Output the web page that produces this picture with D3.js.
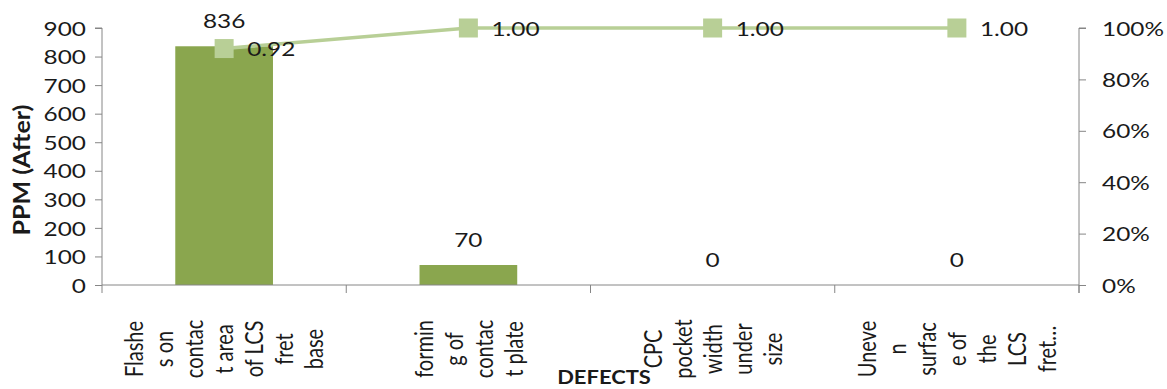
<!DOCTYPE html>
<html>
<head>
<meta charset="utf-8">
<script src="https://cdn.jsdelivr.net/npm/d3@7"></script>
<style>
  html, body { margin: 0; padding: 0; background: #fff; }
  svg { display: block; }
  text { font-family: Lato, "Open Sans", sans-serif; fill: #1a1a1a; }
</style>
</head>
<body>
<svg id="chart" width="1167" height="389"></svg>
<script>
// Defect categories (full names) and their wrapped axis labels
const categories = [
  "Flashes on contact area of LCS fret base",
  "forming of contact plate",
  "CPC pocket width under size",
  "Uneven surface of the LCS fret…"
];
const categoryLines = [
  ["Flashe", "s on", "contac", "t area", "of LCS", "fret", "base"],
  ["formin", "g of", "contac", "t plate"],
  ["CPC", "pocket", "width", "under", "size"],
  ["Uneve", "n", "surfac", "e of", "the", "LCS", "fret…"]
];
// PPM after improvement, per defect
const ppmValues = [836, 70, 0, 0];
// Cumulative share of defects
const cumulativeShare = [0.92, 1.00, 1.00, 1.00];
// Axis ticks
const leftTicks = [0, 100, 200, 300, 400, 500, 600, 700, 800, 900];
const rightTicks = [0, 0.2, 0.4, 0.6, 0.8, 1.0];

const svg = d3.select("#chart");
const plot = { left: 102, right: 1079, top: 28, bottom: 285 };
const stretch = 1.22;           // horizontal widening of the lettering
const fontSize = 20;
const axisColor = "#868686";
const barColor = "#8aa64e";
const lineColor = "#b8cf96";

const x = d3.scaleBand().domain(categories).range([plot.left, plot.right]).padding(0);
const yL = d3.scaleLinear().domain([0, 900]).range([plot.bottom, plot.top]);
const yR = d3.scaleLinear().domain([0, 1]).range([plot.bottom, plot.top]);
const cx = c => x(c) + x.bandwidth() / 2;

// helper: widened text centred (vertically) at (px, py)
function label(g, px, py, str, opts = {}) {
  const rot = opts.rotate ? ` rotate(${opts.rotate})` : "";
  const sx = opts.sx || stretch;
  return g.append("text")
    .attr("transform", `translate(${px},${py}) scale(${sx},1)${rot}`)
    .attr("text-anchor", opts.anchor || "middle")
    .attr("dominant-baseline", "central")
    .style("font-size", (opts.size || fontSize) + "px")
    .style("font-weight", opts.bold ? "bold" : null)
    .text(str);
}

// Bars
const barW = x.bandwidth() * 0.4;
svg.append("g").selectAll("rect").data(categories).join("rect")
  .attr("x", (d) => cx(d) - barW / 2)
  .attr("width", barW)
  .attr("y", (d, i) => yL(ppmValues[i]))
  .attr("height", (d, i) => yL(0) - yL(ppmValues[i]))
  .attr("fill", barColor);

// Left axis
const gL = svg.append("g").attr("transform", `translate(${plot.left},0)`)
  .call(d3.axisLeft(yL).tickValues(leftTicks).tickSize(7).tickFormat(""));
gL.select(".domain").attr("stroke", axisColor).attr("d", `M-7,${plot.top}H0V${plot.bottom}`);
gL.selectAll(".tick line").attr("stroke", axisColor);
leftTicks.forEach(t => label(svg, 86, yL(t), String(t), { anchor: "end" }));

// Right axis
const gR = svg.append("g").attr("transform", `translate(${plot.right},0)`)
  .call(d3.axisRight(yR).tickValues(rightTicks).tickSize(7).tickFormat(""));
gR.select(".domain").attr("stroke", axisColor).attr("d", `M7,${plot.top}H0V${plot.bottom + 8}`);
gR.selectAll(".tick line").attr("stroke", axisColor);
rightTicks.forEach(t => label(svg, 1102, yR(t), d3.format(".0%")(t), { anchor: "start" }));

// Category axis with ticks at band boundaries
const bounds = categories.map(c => x(c)).concat([plot.right]);
const gX = svg.append("g");
gX.append("line").attr("x1", plot.left).attr("x2", plot.right)
  .attr("y1", plot.bottom).attr("y2", plot.bottom).attr("stroke", axisColor);
gX.selectAll("line.tk").data(bounds).join("line").attr("class", "tk")
  .attr("x1", d => d).attr("x2", d => d)
  .attr("y1", plot.bottom).attr("y2", plot.bottom + 8).attr("stroke", axisColor);

// Wrapped, rotated category labels: one column per line
const lineGap = 30;
categories.forEach((c, i) => {
  const lines = categoryLines[i];
  const start = cx(c) - (lines.length - 1) * lineGap / 2;
  lines.forEach((ln, j) => label(svg, start + j * lineGap, 349, ln, { rotate: -90 }));
});

// Cumulative line and markers
const pts = categories.map((c, i) => [cx(c), yR(cumulativeShare[i])]);
svg.append("path").attr("d", d3.line()(pts))
  .attr("fill", "none").attr("stroke", lineColor).attr("stroke-width", 3.5);
const mk = 19;
svg.append("g").selectAll("rect").data(pts).join("rect")
  .attr("x", d => d[0] - mk / 2).attr("y", d => d[1] - mk / 2)
  .attr("width", mk).attr("height", mk).attr("fill", lineColor);

// Value labels
categories.forEach((c, i) => {
  label(svg, cx(c), yL(ppmValues[i]) - 26, String(ppmValues[i]));
  label(svg, cx(c) + 23, yR(cumulativeShare[i]), cumulativeShare[i].toFixed(2), { anchor: "start" });
});

// Axis titles
label(svg, 22, 170, "PPM (After)", { rotate: -90, bold: true, size: 25, sx: 0.88 });
label(svg, 604, 377, "DEFECTS", { bold: true, size: 18 });
</script>
</body>
</html>
